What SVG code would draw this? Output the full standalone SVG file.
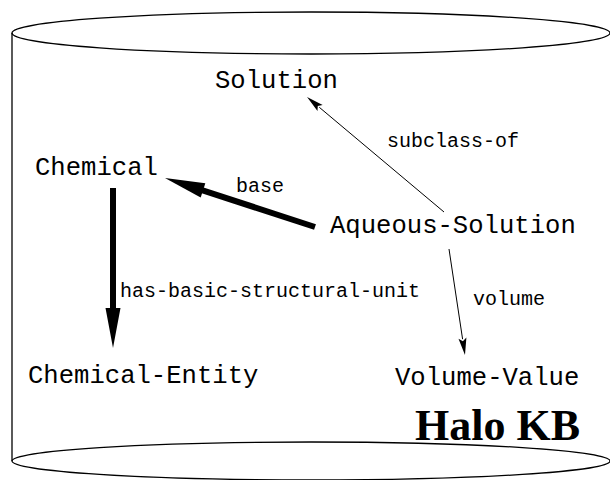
<svg xmlns="http://www.w3.org/2000/svg" width="610" height="480" viewBox="0 0 610 480">
<style>
.node{font-family:"Liberation Mono","Courier New",monospace;font-size:25.6px;fill:#000}
.lbl{font-family:"Liberation Mono","Courier New",monospace;font-size:20px;fill:#000}
.title{font-family:"Liberation Serif","Times New Roman",serif;font-size:44px;font-weight:bold;fill:#000}
.cyl{fill:none;stroke:#000;stroke-width:1.3}
.thin{fill:none;stroke:#000;stroke-width:1}
.thick{fill:none;stroke:#000;stroke-width:6}
</style>
<defs>
<marker id="headThick" markerUnits="userSpaceOnUse" markerWidth="40" markerHeight="16" refX="0" refY="8" orient="auto" overflow="visible">
<path d="M-2,0.5 L38,8 L-2,15.5 Z" fill="#000"/>
</marker>
<marker id="headThin" markerUnits="userSpaceOnUse" markerWidth="18" markerHeight="8" refX="0" refY="4" orient="auto" overflow="visible">
<path d="M-1,0 L16,4 L-1,8 L2,4 Z" fill="#000"/>
</marker>
</defs>
<g id="cylinder">
<ellipse class="cyl" cx="311" cy="33" rx="299" ry="21"/>
<line class="cyl" x1="12" y1="33" x2="12" y2="461"/>
<ellipse class="cyl" cx="311" cy="461" rx="299" ry="19"/>
</g>
<g id="connectors">
<line class="thin" x1="444" y1="212" x2="319.3" y2="107.3" marker-end="url(#headThin)"/>
<line class="thick" x1="315" y1="227" x2="201.1" y2="189.8" marker-end="url(#headThick)"/>
<line class="thick" x1="113" y1="188" x2="113" y2="310" marker-end="url(#headThick)"/>
<line class="thin" x1="449" y1="249" x2="462.6" y2="339.2" marker-end="url(#headThin)"/>
<text class="lbl" x="387" y="147">subclass-of</text>
<text class="lbl" x="236" y="192">base</text>
<text class="lbl" x="120" y="297">has-basic-structural-unit</text>
<text class="lbl" x="473" y="305">volume</text>
</g>
<g id="Solution"><text class="node" x="215" y="88">Solution</text></g>
<g id="Chemical"><text class="node" x="35" y="175">Chemical</text></g>
<g id="Aqueous-Solution"><text class="node" x="330" y="233">Aqueous-Solution</text></g>
<g id="Chemical-Entity"><text class="node" x="28" y="383">Chemical-Entity</text></g>
<g id="Volume-Value"><text class="node" x="395" y="385">Volume-Value</text></g>
<g id="title"><text class="title" x="415" y="440">Halo KB</text></g>
</svg>
